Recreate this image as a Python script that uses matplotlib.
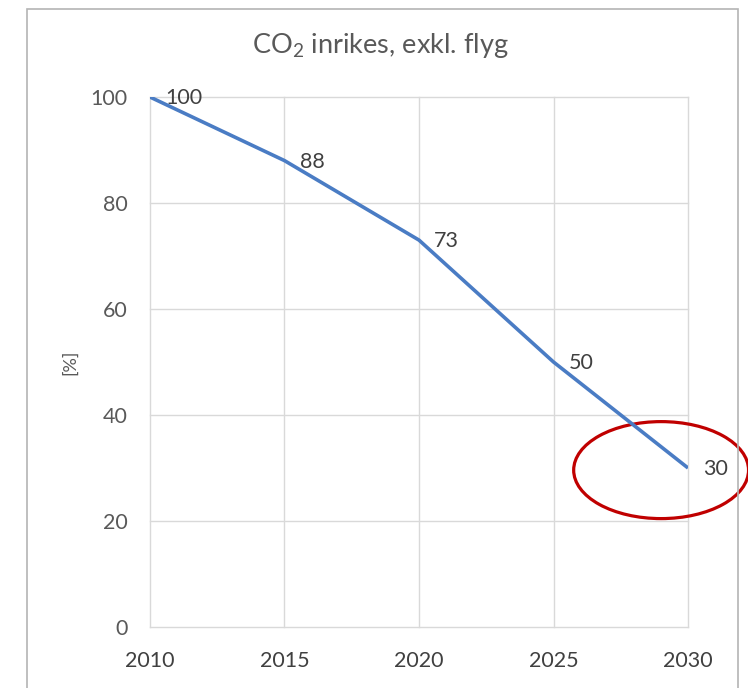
"""CO2 inrikes, exkl. flyg: indexerad utveckling 2010-2030."""

import matplotlib

matplotlib.use("Agg")
import matplotlib.pyplot as plt
from matplotlib.patches import Ellipse, Rectangle

YEARS = [2010, 2015, 2020, 2025, 2030]
VALUES = [100, 88, 73, 50, 30]
Y_TICKS = [0, 20, 40, 60, 80, 100]

FONT = ["Lato", "DejaVu Sans"]
GREY = "#595959"

plt.rcParams["font.family"] = FONT
plt.rcParams["mathtext.fontset"] = "custom"
plt.rcParams["mathtext.rm"] = "Lato"


def main() -> None:
    fig = plt.figure(figsize=(7.48, 6.88), dpi=100)
    ax = fig.add_axes([0.2005, 0.0887, 0.7193, 0.7703])

    # yttre ram runt diagrammet
    fig.patches.append(Rectangle((27 / 748, -0.05), (738 - 27) / 748, 1.05 - 9 / 688,
                                 transform=fig.transFigure, fill=False,
                                 edgecolor="#b4b4b4", linewidth=1.2))

    ax.plot(YEARS, VALUES, color="#4a7cc4", linewidth=2.6, solid_capstyle="butt")
    for x, y in zip(YEARS, VALUES):
        ax.annotate(f"{y}", (x, y), xytext=(11, -1), textcoords="offset points",
                    ha="left", va="center", fontsize=15.5, color="#404040")

    ax.set_xlim(YEARS[0], YEARS[-1])
    ax.set_ylim(Y_TICKS[0], Y_TICKS[-1])
    ax.set_xticks(YEARS)
    ax.set_yticks(Y_TICKS)
    ax.grid(True, color="#d9d9d9", linewidth=1)
    for gl in ax.get_xgridlines() + ax.get_ygridlines():
        gl.set_clip_on(False)
    ax.set_axisbelow(True)
    for s in ax.spines.values():
        s.set_visible(False)
    ax.tick_params(length=0, labelsize=15.5, colors=GREY)
    ax.tick_params(axis="y", pad=16)
    ax.tick_params(axis="x", pad=17, labelcolor="#404040")
    ax.set_ylabel("[%]", fontsize=13, color=GREY, labelpad=9)
    fig.text(0.508, 0.934, r"CO$_2$ inrikes, exkl. flyg", ha="center", va="center",
             fontsize=19.5, color=GREY)

    # röd markering kring sista värdet
    ax.add_patch(Ellipse((YEARS[-1] - 1.0, VALUES[-1] - 0.4), 6.5, 18.3,
                         fill=False, edgecolor="#C00000", linewidth=2.3, clip_on=False))

    fig.savefig("out.png", dpi=100)


if __name__ == "__main__":
    main()
